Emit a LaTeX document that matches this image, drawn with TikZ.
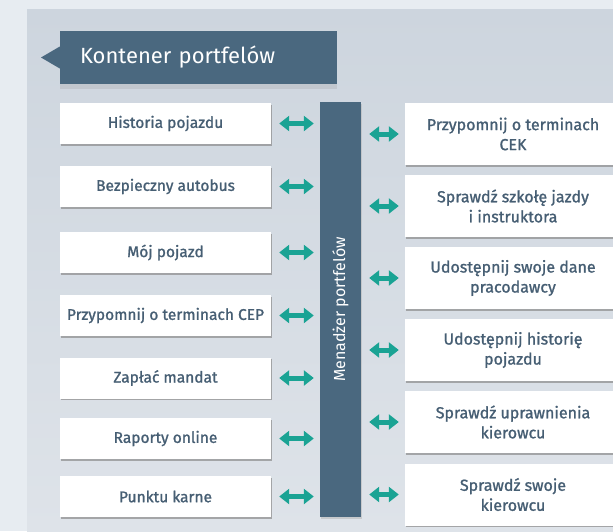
\documentclass[tikz,border=0pt]{standalone}
\usepackage{fontspec}
\setmainfont{Fira Sans}
\newfontfamily\boxfont[FakeBold=1.2]{Fira Sans}
\usetikzlibrary{arrows.meta,positioning,shadows}
\definecolor{slate}{HTML}{4A687F}
\definecolor{boxtext}{HTML}{465E73}
\definecolor{linkcol}{HTML}{1AA394}
\definecolor{panel}{HTML}{CDD5DE}
\definecolor{panellow}{HTML}{DEE3E9}
\definecolor{outside}{HTML}{E7ECF1}

\begin{document}
\begin{tikzpicture}[x=1pt,y=-1pt,
  item/.style={fill=white, inner sep=0pt, minimum width=211pt, minimum height=41pt,
    text=boxtext, font=\boxfont\fontsize{15.5}{20}\selectfont,
    drop shadow={shadow xshift=1pt, shadow yshift=-1.5pt, fill=black!45, opacity=.7}},
  ritem/.style={item, minimum width=216pt, minimum height=62pt, align=center,
    font=\boxfont\fontsize{16}{20}\selectfont},
  link/.style={draw=linkcol, line width=5pt, {Triangle[length=10pt,width=15pt]}-{Triangle[length=10pt,width=15pt]},
    shorten <=8pt, shorten >=6pt},
]
%%
  \useasboundingbox (0,0) rectangle (613,531);
  \clip (0,0) rectangle (613,531);
  \fill[outside] (0,0) rectangle (613,531);
  \shade[top color=panel, bottom color=panellow] (27,9) rectangle (613,531);
%
  \node (title) at (198.5,57.5) [fill=slate, inner xsep=20pt, inner ysep=0pt, text width=237pt,
    minimum height=53pt, align=left, text=white, font=\fontsize{22}{26}\selectfont,
    drop shadow={shadow xshift=0pt, shadow yshift=-5pt, fill=black!40, opacity=.25}] {Kontener portfelów};
  \fill[slate] ([yshift=11pt]title.west) -- (41,57.5) -- ([yshift=-11pt]title.west) -- cycle;
%
  \node (mgr) at (340.5,309.5) [fill=slate, minimum width=41pt, minimum height=415pt, inner sep=0pt,
    drop shadow={shadow xshift=1pt, shadow yshift=-1.5pt, fill=black!30, opacity=.5}] {};
  \node (mgrtext) at (mgr) [rotate=90, text=white, font=\fontsize{16}{18}\selectfont] {Menadżer portfelów};
%
  \node (l1) at (165.5,123.5) [item] {Historia pojazdu};
  \node (l2) at (165.5,186.5) [item] {Bezpieczny autobus};
  \node (l3) at (165.5,252.5) [item] {Mój pojazd};
  \node (l4) at (165.5,315.5) [item] {Przypomnij o terminach CEP};
  \node (l5) at (165.5,378) [item] {Zapłać mandat};
  \node (l6) at (165.5,438.5) [item] {Raporty online};
  \node (l7) at (165.5,496.5) [item] {Punktu karne};
%
  \node (r1) at (513,134) [ritem] {Przypomnij o terminach\\CEK};
  \node (r2) at (513,206) [ritem] {Sprawdź szkołę jazdy\\i instruktora};
  \node (r3) at (513,278) [ritem] {Udostępnij swoje dane\\pracodawcy};
  \node (r4) at (513,350) [ritem] {Udostępnij historię\\pojazdu};
  \node (r5) at (513,422) [ritem] {Sprawdź uprawnienia\\kierowcu};
  \node (r6) at (513,494.5) [ritem] {Sprawdź swoje\\kierowcu};
%
  \draw [link] (l1.east) -- (l1.east -| mgr.west);
  \draw [link] (l2.east) -- (l2.east -| mgr.west);
  \draw [link] (l3.east) -- (l3.east -| mgr.west);
  \draw [link] (l4.east) -- (l4.east -| mgr.west);
  \draw [link] (l5.east) -- (l5.east -| mgr.west);
  \draw [link] (l6.east) -- (l6.east -| mgr.west);
  \draw [link] (l7.east) -- (l7.east -| mgr.west);
  \draw [link] (r1.west -| mgr.east) -- (r1.west);
  \draw [link] (r2.west -| mgr.east) -- (r2.west);
  \draw [link] (r3.west -| mgr.east) -- (r3.west);
  \draw [link] (r4.west -| mgr.east) -- (r4.west);
  \draw [link] (r5.west -| mgr.east) -- (r5.west);
  \draw [link] (r6.west -| mgr.east) -- (r6.west);
%
\end{tikzpicture}
\end{document}
